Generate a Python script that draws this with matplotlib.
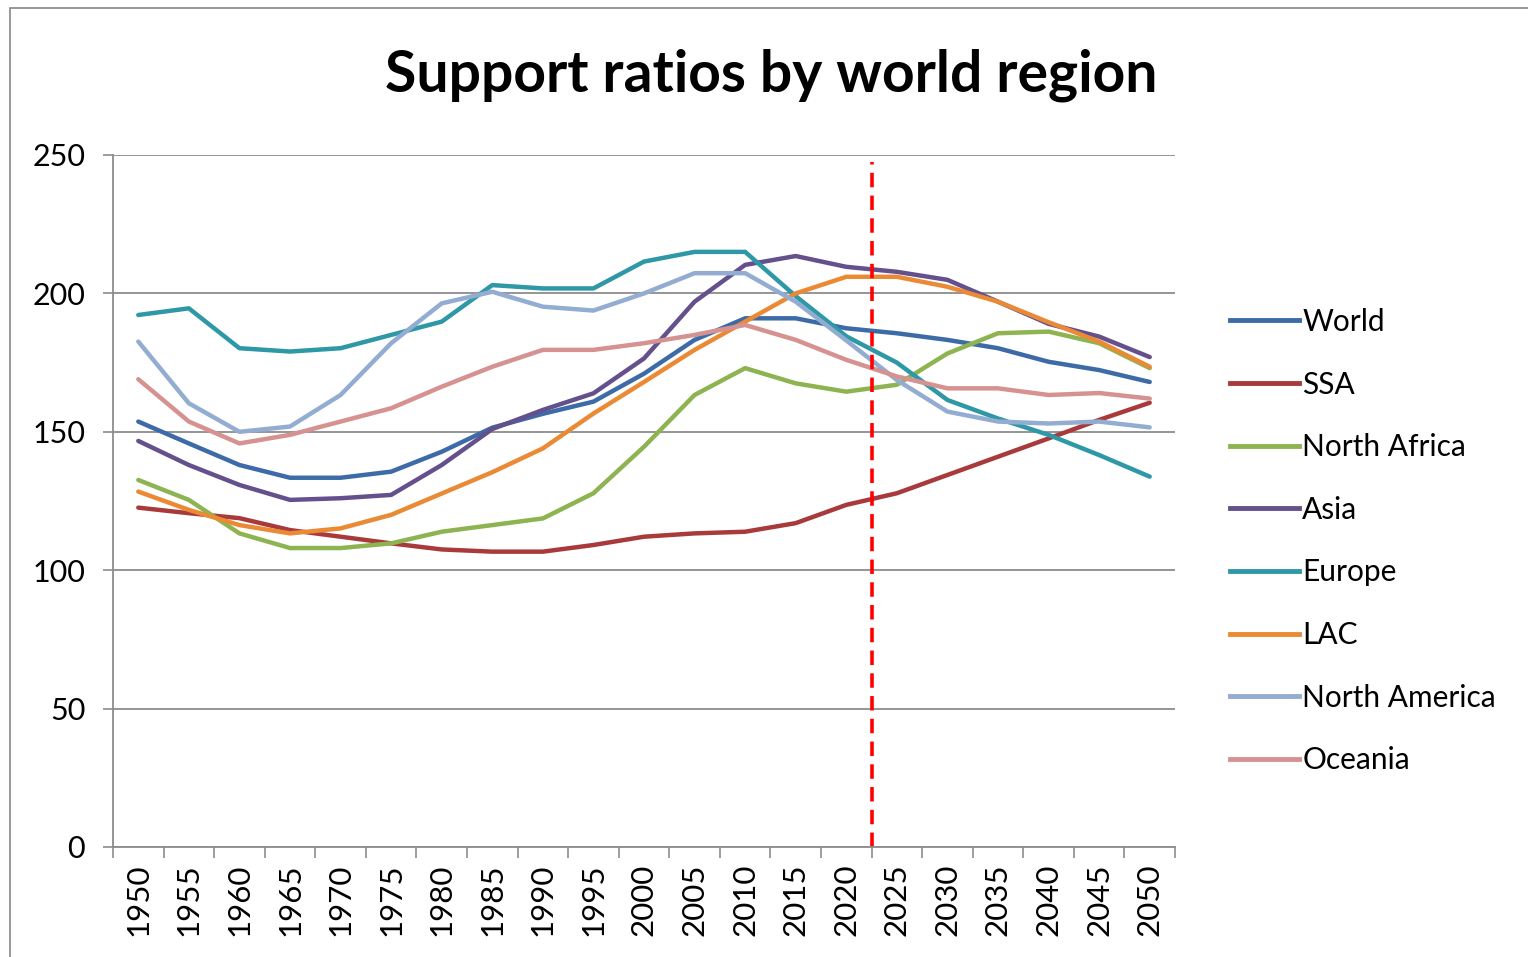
import matplotlib
matplotlib.use("Agg")
import matplotlib.pyplot as plt
from matplotlib.patches import Rectangle
from matplotlib.lines import Line2D

plt.rcParams['font.family'] = ['Lato', 'DejaVu Sans']

years = [1950, 1955, 1960, 1965, 1970, 1975, 1980, 1985, 1990, 1995, 2000,
         2005, 2010, 2015, 2020, 2025, 2030, 2035, 2040, 2045, 2050]

world = [153.7, 145.8, 138.0, 133.4, 133.4, 135.6, 142.8, 151.5, 156.5, 160.9, 171.0,
         183.2, 191.0, 191.0, 187.4, 185.6, 183.2, 180.2, 175.3, 172.3, 168.0]
ssa = [122.6, 120.6, 118.8, 114.5, 112.1, 109.7, 107.5, 106.7, 106.7, 109.1, 112.1,
       113.3, 113.9, 117.0, 123.6, 127.8, 134.4, 141.0, 147.6, 154.3, 160.5]
north_africa = [132.6, 125.4, 113.3, 108.0, 108.0, 109.7, 113.9, 116.3, 118.7, 127.8, 144.6,
                163.3, 173.0, 167.5, 164.5, 167.0, 178.3, 185.6, 186.2, 182.0, 173.0]
asia = [146.7, 138.0, 130.8, 125.4, 126.0, 127.2, 138.0, 151.0, 157.9, 163.9, 176.5,
        197.0, 210.3, 213.5, 209.6, 207.8, 204.9, 197.0, 189.0, 184.4, 177.0]
europe = [192.2, 194.6, 180.2, 179.0, 180.2, 185.0, 189.8, 203.0, 201.8, 201.8, 211.5,
          215.0, 215.0, 199.0, 184.5, 175.0, 161.5, 154.8, 148.9, 141.6, 133.8]
lac = [128.4, 121.8, 116.3, 113.3, 115.1, 120.0, 127.7, 135.4, 144.0, 156.6, 168.0,
       179.6, 189.8, 200.0, 206.0, 206.0, 202.4, 197.0, 189.6, 182.6, 173.5]
north_america = [182.6, 160.3, 150.0, 151.9, 163.3, 182.0, 196.4, 200.6, 195.2, 193.8, 200.0,
                 207.3, 207.3, 197.0, 183.0, 168.7, 157.3, 153.7, 153.0, 153.7, 151.6]
oceania = [169.0, 153.7, 145.8, 148.9, 153.7, 158.5, 166.3, 173.5, 179.6, 179.6, 182.0,
           185.0, 188.6, 183.2, 176.0, 170.0, 165.7, 165.7, 163.3, 164.0, 162.0]

series_names = ["World", "SSA", "North Africa", "Asia", "Europe", "LAC",
                "North America", "Oceania"]
series_values = [world, ssa, north_africa, asia, europe, lac, north_america, oceania]
colors = ['#3D6BA8', '#A93A3C', '#8DB451', '#64508C', '#2E98A6', '#EB8A35',
          '#93ACD2', '#D69290']

y_ticks = [0, 50, 100, 150, 200, 250]
projection_boundary = 2022.5

W, H = 1528, 957
fig = plt.figure(figsize=(W / 100, H / 100), dpi=100)
fig.patch.set_facecolor('white')

# outer chart border
fig.add_artist(Rectangle((10 / W, -0.05), 1.2, (H - 8) / H + 0.05,
                         transform=fig.transFigure, fill=False,
                         edgecolor='#888888', linewidth=1.2))

ax = fig.add_axes([113 / W, (H - 847) / H, (1175 - 113) / W, (847 - 155) / H])
x = list(range(len(years)))

for name, vals, c in zip(series_names, series_values, colors):
    ax.plot(x, vals, color=c, lw=3.2, label=name, solid_joinstyle='round',
            solid_capstyle='round')

bx = (projection_boundary - years[0]) / 5
ax.axvline(bx, ymin=0.0, ymax=0.99, color='red', lw=2.6, ls=(0, (4.0, 2.3)))

ax.set_xlim(-0.5, len(years) - 0.5)
ax.set_ylim(0, 250)
ax.set_yticks(y_ticks)
ax.set_yticklabels([str(v) for v in y_ticks], fontsize=22)
ax.yaxis.grid(True, color='#8c8c8c', lw=1.3)
ax.set_axisbelow(True)

ax.set_xticks(x)
ax.set_xticklabels([str(y) for y in years], rotation=90, fontsize=22.5)
ax.set_xticks([i - 0.5 for i in range(len(years) + 1)], minor=True)
ax.tick_params(axis='x', which='major', length=0, pad=12)
ax.tick_params(axis='x', which='minor', length=8, width=1.2, color='#8c8c8c', direction='out')
ax.tick_params(axis='y', length=7, width=1.2, color='#8c8c8c', pad=13)

for s in ['top', 'right']:
    ax.spines[s].set_visible(False)
for s in ['left', 'bottom']:
    ax.spines[s].set_color('#8c8c8c')
    ax.spines[s].set_linewidth(1.3)

fig.text(771 / W, 1 - 75 / H, "Support ratios by world region", ha='center', va='center',
         fontsize=41, fontweight='bold')

handles = [Line2D([0], [0], color=c, lw=3.5) for c in colors]
leg = fig.legend(handles, series_names, loc='upper left',
                 bbox_to_anchor=(1218 / W, 1 - 296 / H), frameon=False,
                 fontsize=21.5, handlelength=2.3, handletextpad=0.12,
                 labelspacing=1.16, borderaxespad=0)

fig.savefig('out.png', dpi=100, facecolor='white')
